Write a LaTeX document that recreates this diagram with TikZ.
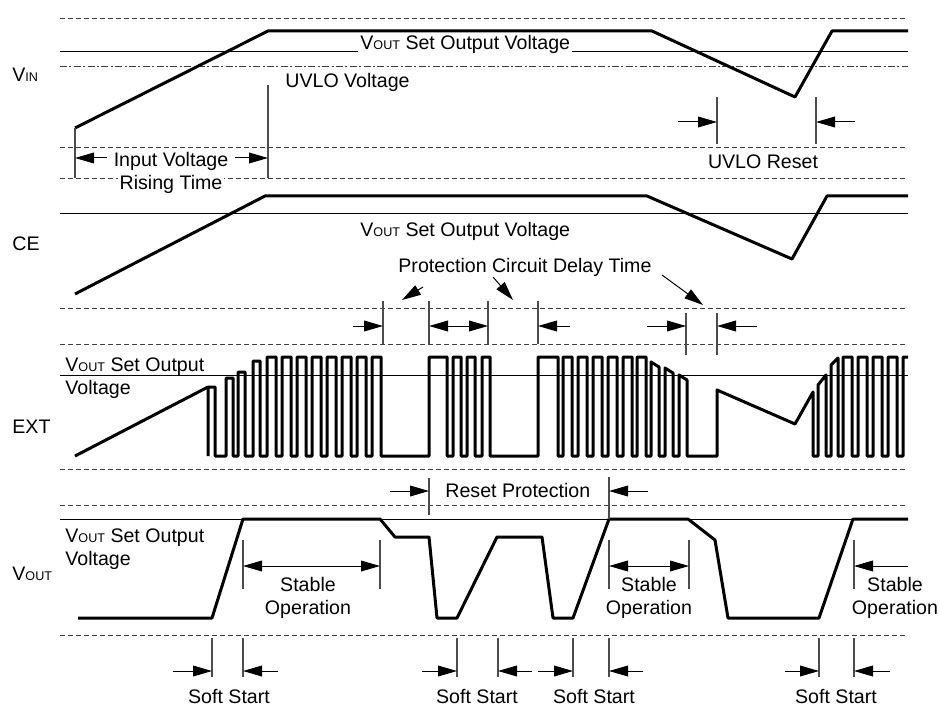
\documentclass[tikz,border=0pt]{standalone}
\usepackage{fontspec}
\setmainfont{Liberation Sans}
\usetikzlibrary{arrows.meta}
\newcommand{\lowcap}[1]{{\fontsize{6.3}{7}\selectfont #1}}
\tikzset{
  sig/.style={line width=1.5pt, line join=round},
  refline/.style={line width=0.5pt},
  guide/.style={black!75, line width=0.45pt, dash pattern=on 2.5pt off 1.5pt},
  dashdot/.style={black!75, line width=0.45pt, dash pattern=on 3.5pt off 1.2pt on 1pt off 1.2pt},
  tick/.style={black!70, line width=0.6pt},
  dim/.style={-{Triangle[length=9.5pt,width=5.4pt]}, line width=0.5pt},
  dimboth/.style={{Triangle[length=9.5pt,width=5.4pt]}-{Triangle[length=9.5pt,width=5.4pt]}, line width=0.5pt},
  lbl/.style={font=\fontsize{9.8}{11.5}\selectfont, inner sep=0pt, anchor=base west},
  lblc/.style={font=\fontsize{9.8}{11.5}\selectfont, inner sep=0pt, anchor=base},
}
\begin{document}
\begin{tikzpicture}[x=0.5pt,y=-0.5pt]
    \useasboundingbox (0,0) rectangle (940,705);
    \foreach \y in {18,147,178,308,344,469,505,635}
        \draw[guide] (60,\y) -- (908,\y);
    \draw[dashdot] (60,66) -- (908,66);
    \foreach \y in {52,214,375,519}
        \draw[refline] (60,\y) -- (908,\y);

    % V_IN
    \node[lbl] (vin) at (12,82) {V\lowcap{IN}};
    \draw[sig] (75,128) -- (268,31) -- (652,31) -- (795,97) -- (832,31) -- (908,31);
    \node[lbl, fill=white, inner sep=1pt] (vinset) at (358,50) {V\lowcap{OUT} Set Output Voltage};
    \node[lbl] (uvlo) at (285,88) {UVLO Voltage};
    \draw[tick] (75,128) -- (75,178);
    \draw[tick] (268,85) -- (268,178);
    \node[lblc] (rise) at (171,167) {Input Voltage};
    \node[lblc, fill=white, inner sep=1pt] (risetime) at (171,190) {Rising Time};
    \draw[dim] (107,158) -- (75,158);
    \draw[dim] (235,158) -- (268,158);
    \draw[tick] (717,97) -- (717,144);
    \draw[tick] (816,97) -- (816,144);
    \draw[dim] (678,122) -- (717,122);
    \draw[dim] (855,122) -- (816,122);
    \node[lblc] (uvreset) at (763,169) {UVLO Reset};

    % CE
    \node[lbl] (ce) at (12,250) {CE};
    \draw[sig] (75,294) -- (265,196) -- (647,196) -- (792,259) -- (827,196) -- (908,196);
    \node[lbl] (ceset) at (360,237) {V\lowcap{OUT} Set Output Voltage};
    \node[lbl] (delay) at (398,272) {Protection Circuit Delay Time};
    \draw[dim] (423,287) -- (402,300);
    \draw[dim] (493,277) -- (513,300);
    \draw[dim] (662,275) -- (703,305);
    \foreach \x in {383,429,488,538}
        \draw[tick] (\x,301) -- (\x,344);
    \foreach \x in {686,717}
        \draw[tick] (\x,313) -- (\x,355);
    \draw[dim] (353,326) -- (383,326);
    \draw[dimboth] (429,326) -- (488,326);
    \draw[dim] (570,326) -- (538,326);
    \draw[dim] (647,326) -- (686,326);
    \draw[dim] (757,326) -- (717,326);

    % EXT
    \node[lbl] (ext) at (12,433) {EXT};
    \node[lbl] (extset) at (65,371) {V\lowcap{OUT} Set Output};
    \node[lbl] (extvolt) at (65,394) {Voltage};
    \draw[sig] (75,456) -- (208,387);
    \draw[sig] (208,456) -- (208,387) -- (215,387) -- (215,456)
        -- (226,456) -- (226,378) -- (233,378) -- (233,456)
        -- (238,456) -- (238,372) -- (245,372) -- (245,456)
        -- (253,456) -- (253,361) -- (260,361) -- (260,456)
        \foreach \x in {267,282,...,372} { -- (\x,456) -- (\x,357) -- ({\x+9},357) -- ({\x+9},456) }
        -- (429,456) -- (429,357) -- (447,357) -- (447,456)
        \foreach \x in {453,467,482} { -- (\x,456) -- (\x,357) -- ({\x+8},357) -- ({\x+8},456) }
        -- (538,456) -- (538,357) -- (558,357) -- (558,456)
        \foreach \x in {563,578,593,608,623,637} { -- (\x,456) -- (\x,357) -- ({\x+9},357) -- ({\x+9},456) }
        -- (651,456) -- (651,362) -- (659,367) -- (659,456)
        -- (665,456) -- (665,368) -- (673,373) -- (673,456)
        -- (679,456) -- (679,375) -- (687,380) -- (687,456)
        -- (717,456) -- (717,390) -- (795,424) -- (813,392) -- (813,456)
        -- (818,456) -- (818,385) -- (826,375) -- (826,456)
        -- (831,456) -- (831,365) -- (838,358) -- (838,456)
        \foreach \x in {843,858,873,888} { -- (\x,456) -- (\x,357) -- ({\x+9},357) -- ({\x+9},456) }
        -- (903,456) -- (903,357) -- (908,357);

    % V_OUT
    \node[lbl] (vout) at (12,580) {V\lowcap{OUT}};
    \node[lbl] (voutset) at (65,542) {V\lowcap{OUT} Set Output};
    \node[lbl] (voutvolt) at (65,565) {Voltage};
    \draw[sig] (78,618) -- (212,618) -- (243,519) -- (380,519) -- (395,537) -- (429,537)
        -- (437,618) -- (457,618) -- (497,537) -- (542,537) -- (553,618) -- (573,618)
        -- (609,519) -- (688,519) -- (715,540) -- (728,618) -- (819,618) -- (853,519) -- (908,519);
    \draw[tick] (429,478) -- (429,515);
    \draw[tick] (609,477) -- (609,519);
    \draw[dim] (390,491) -- (429,491);
    \draw[dim] (648,491) -- (609,491);
    \node[lbl] (resetprot) at (445,497) {Reset Protection};
    \foreach \x in {243,380,609,689,854}
        \draw[tick] (\x,540) -- (\x,589);
    \draw[dimboth] (243,566) -- (380,566);
    \draw[dimboth] (609,566) -- (689,566);
    \draw[dim] (908,566) -- (854,566);
    \foreach \x/\n in {308/a,649/b,895/c} {
        \node[lblc] (stable\n) at (\x,591) {Stable};
        \node[lblc] (oper\n) at (\x,614) {Operation};
    }

    % soft start
    \foreach \x in {212,243,457,498,573,609,819,854}
        \draw[tick] (\x,638) -- (\x,677);
    \foreach \a/\b in {173/212,278/243,422/457,532/498,538/573,643/609,785/819,890/854}
        \draw[dim] (\a,671) -- (\b,671);
    \foreach \x/\n in {229/a,477/b,594/c,836/d}
        \node[lblc] (soft\n) at (\x,703) {Soft Start};
\end{tikzpicture}
\end{document}
